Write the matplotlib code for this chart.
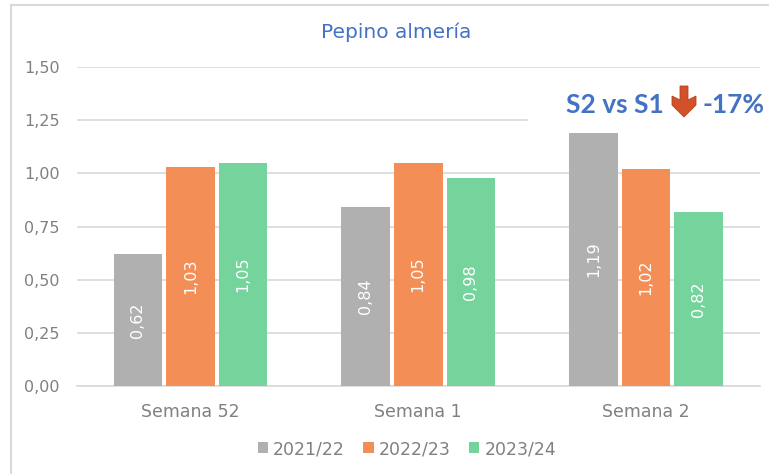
import numpy as np
import matplotlib
matplotlib.use('Agg')
import matplotlib.pyplot as plt
from matplotlib.patches import Polygon, Rectangle
from matplotlib.lines import Line2D

plt.rcParams['font.family'] = ['DejaVu Sans']

categories = ['Semana 52', 'Semana 1', 'Semana 2']
seasons = ['2021/22', '2022/23', '2023/24']
values_2122 = [0.62, 0.84, 1.19]
values_2223 = [1.03, 1.05, 1.02]
values_2324 = [1.05, 0.98, 0.82]
y_ticks = [0, 0.25, 0.5, 0.75, 1.0, 1.25, 1.5]

colors = ['#B0B0B0', '#F38F56', '#75D49B']
text_gray = '#808080'
W, H = 769, 474


# pixel position (from top left of the image) to figure fraction
def px(x, y):
    return x / W, 1 - y / H


fig = plt.figure(figsize=(W / 100, H / 100), dpi=100)
ax = fig.add_axes([76.5 / W, 1 - 386 / H, (760 - 76.5) / W, (386 - 67) / H])

x = np.arange(len(categories))
bar_w = 0.213
step = 0.231
series = [values_2122, values_2223, values_2324]
for i, vals in enumerate(series):
    bars = ax.bar(x + (i - 1) * step, vals, bar_w, color=colors[i], label=seasons[i], zorder=3)
    for b, v in zip(bars, vals):
        ax.text(b.get_x() + b.get_width() / 2, v / 2, f'{v:.2f}'.replace('.', ','),
                rotation=90, ha='center', va='center', color='white', fontsize=11.5, zorder=4)

ax.set_xlim(-0.5, 2.5)
ax.set_ylim(0, 1.5)
ax.set_yticks(y_ticks)
ax.set_yticklabels([f'{t:.2f}'.replace('.', ',') for t in y_ticks])
ax.set_xticks(x)
ax.set_xticklabels(categories)
ax.tick_params(axis='both', length=0, labelcolor=text_gray, labelsize=11.5)
ax.tick_params(axis='x', labelsize=12.5, pad=12)
ax.tick_params(axis='y', pad=12)
ax.grid(axis='y', color='#D9D9D9', lw=1.2, zorder=0)
ax.set_axisbelow(True)
for s in ['top', 'right', 'left']:
    ax.spines[s].set_visible(False)
ax.spines['bottom'].set_color('#D9D9D9')
ax.spines['bottom'].set_linewidth(1.2)

# outer frame of the pasted chart, only top and left are visible
fig.add_artist(Line2D([10.5 / W, 10.5 / W], [0, 1 - 5 / H], color='#D9D9D9', lw=1.5))
fig.add_artist(Line2D([10.5 / W, 1], [1 - 5 / H, 1 - 5 / H], color='#D9D9D9', lw=1.5))

fig.text(*px(396, 32), 'Pepino almería', color='#4472C4', fontsize=14.5,
         ha='center', va='center')

# white box of the annotation hides the 1,25 gridline
x0, y0 = px(528, 128)
x1, y1 = px(762, 112)
ax.add_patch(Rectangle((x0, y0), x1 - x0, y1 - y0, transform=fig.transFigure,
                       facecolor='white', edgecolor='none', zorder=2))
fig.text(*px(566, 105), 'S2 vs S1', color='#4472C4', fontsize=19, fontweight='bold',
         family='Lato', ha='left', va='center', zorder=5)
fig.text(*px(765, 105), '-17%', color='#4472C4', fontsize=19, fontweight='bold',
         family='Lato', ha='right', va='center', zorder=5)
arrow = [(680, 86), (688, 86), (688, 100), (696, 96), (696, 105), (684, 117), (672, 105), (672, 96), (680, 100)]
fig.add_artist(Polygon([px(a, b) for a, b in arrow], closed=True, transform=fig.transFigure,
                       facecolor='#D2502A', edgecolor='#B8431F', lw=0.6, zorder=5))

handles, labels = ax.get_legend_handles_labels()
fig.legend(handles, labels, loc='center', bbox_to_anchor=px(407, 449), ncol=3, frameon=False,
           fontsize=12.5, labelcolor=text_gray, handlelength=0.6, handleheight=0.6,
           handletextpad=0.3, columnspacing=1.05, borderpad=0)

fig.savefig('out.png', dpi=100, facecolor='white')
